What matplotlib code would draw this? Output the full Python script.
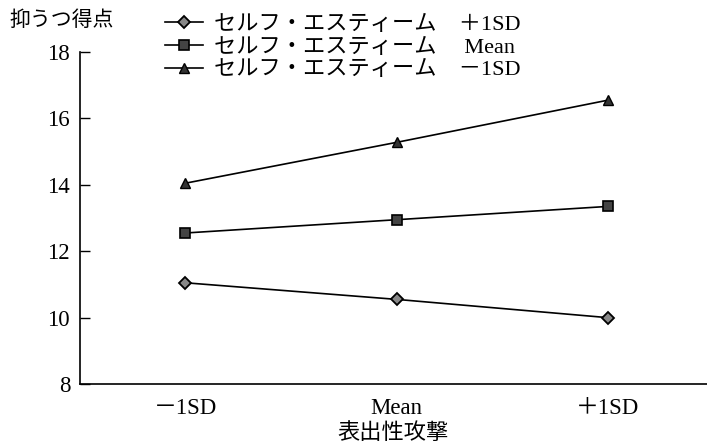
import matplotlib.pyplot as plt

plt.rcParams['font.family'] = ['Liberation Serif', 'Noto Sans CJK JP']

# 表出性攻撃の水準
x_labels = ['－1SD', 'Mean', '＋1SD']
# セルフ・エスティーム別の抑うつ得点
se_high = [11.05, 10.55, 10.0]
se_mean = [12.55, 12.95, 13.35]
se_low = [14.05, 15.28, 16.55]
series_names = ['セルフ・エスティーム　＋1SD',
                'セルフ・エスティーム　 Mean',
                'セルフ・エスティーム　－1SD']

fig = plt.figure(figsize=(7.07, 4.45), dpi=100)
ax = fig.add_axes([0.113, 0.137, 0.887, 0.746])

xs = range(len(x_labels))
ax.plot(xs, se_high, color='black', lw=1.2, marker='D', ms=6.5,
        mfc='#888888', mec='black', mew=1.3, label=series_names[0])
ax.plot(xs, se_mean, color='black', lw=1.2, marker='s', ms=6.5,
        mfc='#444444', mec='black', mew=1.2, label=series_names[1])
ax.plot(xs, se_low, color='black', lw=1.2, marker='^', ms=7.5,
        mfc='#333333', mec='black', mew=1.0, label=series_names[2])

ax.set_xlim(-0.5, 2.47)
ax.set_ylim(8, 18)
ax.set_yticks([8, 10, 12, 14, 16, 18])
ax.set_xticks(list(xs))
ax.set_xticklabels(x_labels)
ax.tick_params(axis='y', direction='in', length=7.5, width=1, labelsize=16.5, pad=7)
ax.tick_params(axis='x', length=0, labelsize=16.5, pad=10)
for s in ['top', 'right']:
    ax.spines[s].set_visible(False)
for s in ['left', 'bottom']:
    ax.spines[s].set_linewidth(1.2)

ax.set_xlabel('表出性攻撃', fontsize=16, labelpad=3)
fig.text(0.014, 0.953, '抑うつ得点', fontsize=15, va='center', ha='left')

leg = fig.legend(loc='upper left', bbox_to_anchor=(0.221, 0.988), frameon=False,
                 fontsize=16, handlelength=1.7, handletextpad=0.5,
                 labelspacing=0.1, borderaxespad=0)

fig.savefig('out.png', dpi=100)
